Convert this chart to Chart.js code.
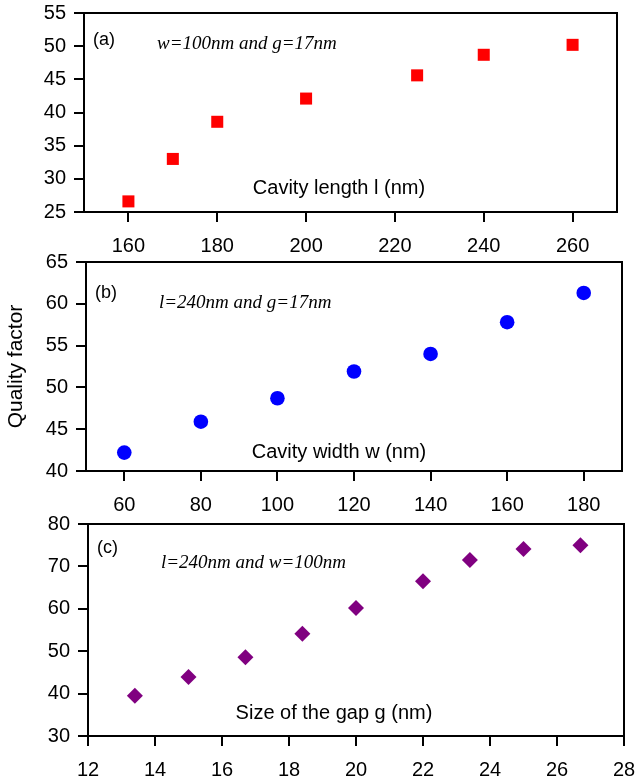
<!DOCTYPE html>
<html>
<head>
<meta charset="utf-8">
<script src="https://cdn.jsdelivr.net/npm/chart.js@4"></script>
<style>
  html, body { margin: 0; padding: 0; background: #fff; }
  body { width: 635px; height: 782px; position: relative; overflow: hidden; }
  .panel { position: absolute; left: 0; width: 635px; }
  .panel canvas { display: block; }
</style>
</head>
<body>
<div class="panel" style="top:0;height:258px"><canvas id="chartA" width="635" height="258"></canvas></div>
<div class="panel" style="top:245px;height:270px"><canvas id="chartB" width="635" height="270"></canvas></div>
<div class="panel" style="top:510px;height:272px"><canvas id="chartC" width="635" height="272"></canvas></div>
<script>
// ---------- DATA ----------
const lengthL = [160, 170, 180, 200, 225, 240, 260];
const qLength = [26.6, 33.0, 38.6, 42.1, 45.6, 48.7, 50.2];

const widthW = [60, 80, 100, 120, 140, 160, 180];
const qWidth = [42.2, 45.9, 48.7, 51.9, 54.0, 57.8, 61.3];

const gapG = [13.4, 15, 16.7, 18.4, 20, 22, 23.4, 25, 26.7];
const qGap = [39.5, 43.9, 48.6, 54.1, 60.2, 66.5, 71.5, 74.1, 75.0];

const SANS = "'Liberation Sans', Arial, Helvetica, sans-serif";
const SERIF = "'Liberation Serif', 'Times New Roman', serif";
Chart.defaults.font.family = SANS;
Chart.defaults.color = "#000";

// ---------- PLUGIN: frame + in-plot texts ----------
const panelText = {
  id: "panelText",
  afterDraw(chart, args, opts) {
    const { ctx, chartArea: a } = chart;
    ctx.save();
    ctx.strokeStyle = "#000";
    ctx.lineWidth = 2;
    ctx.strokeRect(a.left, a.top, a.right - a.left, a.bottom - a.top);
    ctx.fillStyle = "#000";
    ctx.textBaseline = "middle";
    ctx.textAlign = "left";
    ctx.font = "18px " + SANS;
    ctx.fillText(opts.tag, a.left + 9, a.top + opts.tagY);
    ctx.font = "italic 19px " + SERIF;
    ctx.fillText(opts.note, a.left + 73, a.top + opts.noteY);
    ctx.textAlign = "center";
    ctx.font = "20px " + SANS;
    ctx.fillText(opts.title, opts.titleX, a.top + opts.titleY);
    ctx.restore();
  }
};

function makeChart(id, xs, ys, cfg) {
  const pts = xs.map((x, i) => ({ x: x, y: ys[i] }));
  const canvas = document.getElementById(id);
  const H = canvas.height;
  return new Chart(canvas, {
    type: "scatter",
    data: {
      datasets: [{
        data: pts,
        pointStyle: cfg.style,
        pointRadius: cfg.radius,
        pointHoverRadius: cfg.radius,
        backgroundColor: cfg.color,
        borderColor: cfg.color,
        borderWidth: 0
      }]
    },
    options: {
      responsive: false,
      animation: false,
      events: [],
      layout: { padding: { left: 0, right: 635 - cfg.area.right, top: cfg.area.top, bottom: 0 } },
      plugins: {
        legend: { display: false },
        tooltip: { enabled: false },
        panelText: cfg.text
      },
      scales: {
        x: {
          type: "linear",
          min: cfg.xMin, max: cfg.xMax,
          afterBuildTicks: (s) => { s.ticks = cfg.xTicks.map(v => ({ value: v })); },
          afterFit: (s) => { s.height = H - cfg.area.bottom; s.paddingLeft = 0; s.paddingRight = 0; },
          border: { display: true, color: "#000", width: 2 },
          grid: { drawOnChartArea: false, color: "#000", lineWidth: 2, tickLength: 10 },
          ticks: { font: { size: 20 }, padding: 12, maxRotation: 0, autoSkip: false, color: "#000" }
        },
        y: {
          type: "linear",
          min: cfg.yMin, max: cfg.yMax,
          ticks: { stepSize: cfg.yStep, font: { size: 20 }, padding: 8, color: "#000" },
          afterFit: (s) => { s.width = cfg.area.left; s.paddingTop = 0; s.paddingBottom = 0; },
          border: { display: true, color: "#000", width: 2 },
          grid: { drawOnChartArea: false, color: "#000", lineWidth: 2, tickLength: 10 },
          title: cfg.yTitle ? { display: true, text: cfg.yTitle, font: { size: 21 }, padding: { top: 4, bottom: 0 }, color: "#000" } : { display: false }
        }
      }
    },
    plugins: [panelText]
  });
}

// ---------- PANELS ----------
makeChart("chartA", lengthL, qLength, {
  style: "rect", radius: 8.5, color: "#ff0000",
  area: { left: 84, right: 617, top: 13, bottom: 212 },
  xMin: 150, xMax: 270, xTicks: [160, 180, 200, 220, 240, 260],
  yMin: 25, yMax: 55, yStep: 5,
  text: { tag: "(a)", tagY: 27, note: "w=100nm and g=17nm", noteY: 31, title: "Cavity length l (nm)", titleX: 339, titleY: 175 }
});

makeChart("chartB", widthW, qWidth, {
  style: "circle", radius: 7.3, color: "#0000ff",
  area: { left: 86, right: 622, top: 17, bottom: 226 },
  xMin: 50, xMax: 190, xTicks: [60, 80, 100, 120, 140, 160, 180],
  yMin: 40, yMax: 65, yStep: 5,
  yTitle: "Quality factor",
  text: { tag: "(b)", tagY: 31, note: "l=240nm and g=17nm", noteY: 41, title: "Cavity width w (nm)", titleX: 339, titleY: 190 }
});

makeChart("chartC", gapG, qGap, {
  style: "rectRot", radius: 8, color: "#800080",
  area: { left: 88, right: 624, top: 14, bottom: 226 },
  xMin: 12, xMax: 28, xTicks: [12, 14, 16, 18, 20, 22, 24, 26, 28],
  yMin: 30, yMax: 80, yStep: 10,
  text: { tag: "(c)", tagY: 24, note: "l=240nm and w=100nm", noteY: 39, title: "Size of the gap g (nm)", titleX: 334, titleY: 189 }
});
</script>
</body>
</html>
